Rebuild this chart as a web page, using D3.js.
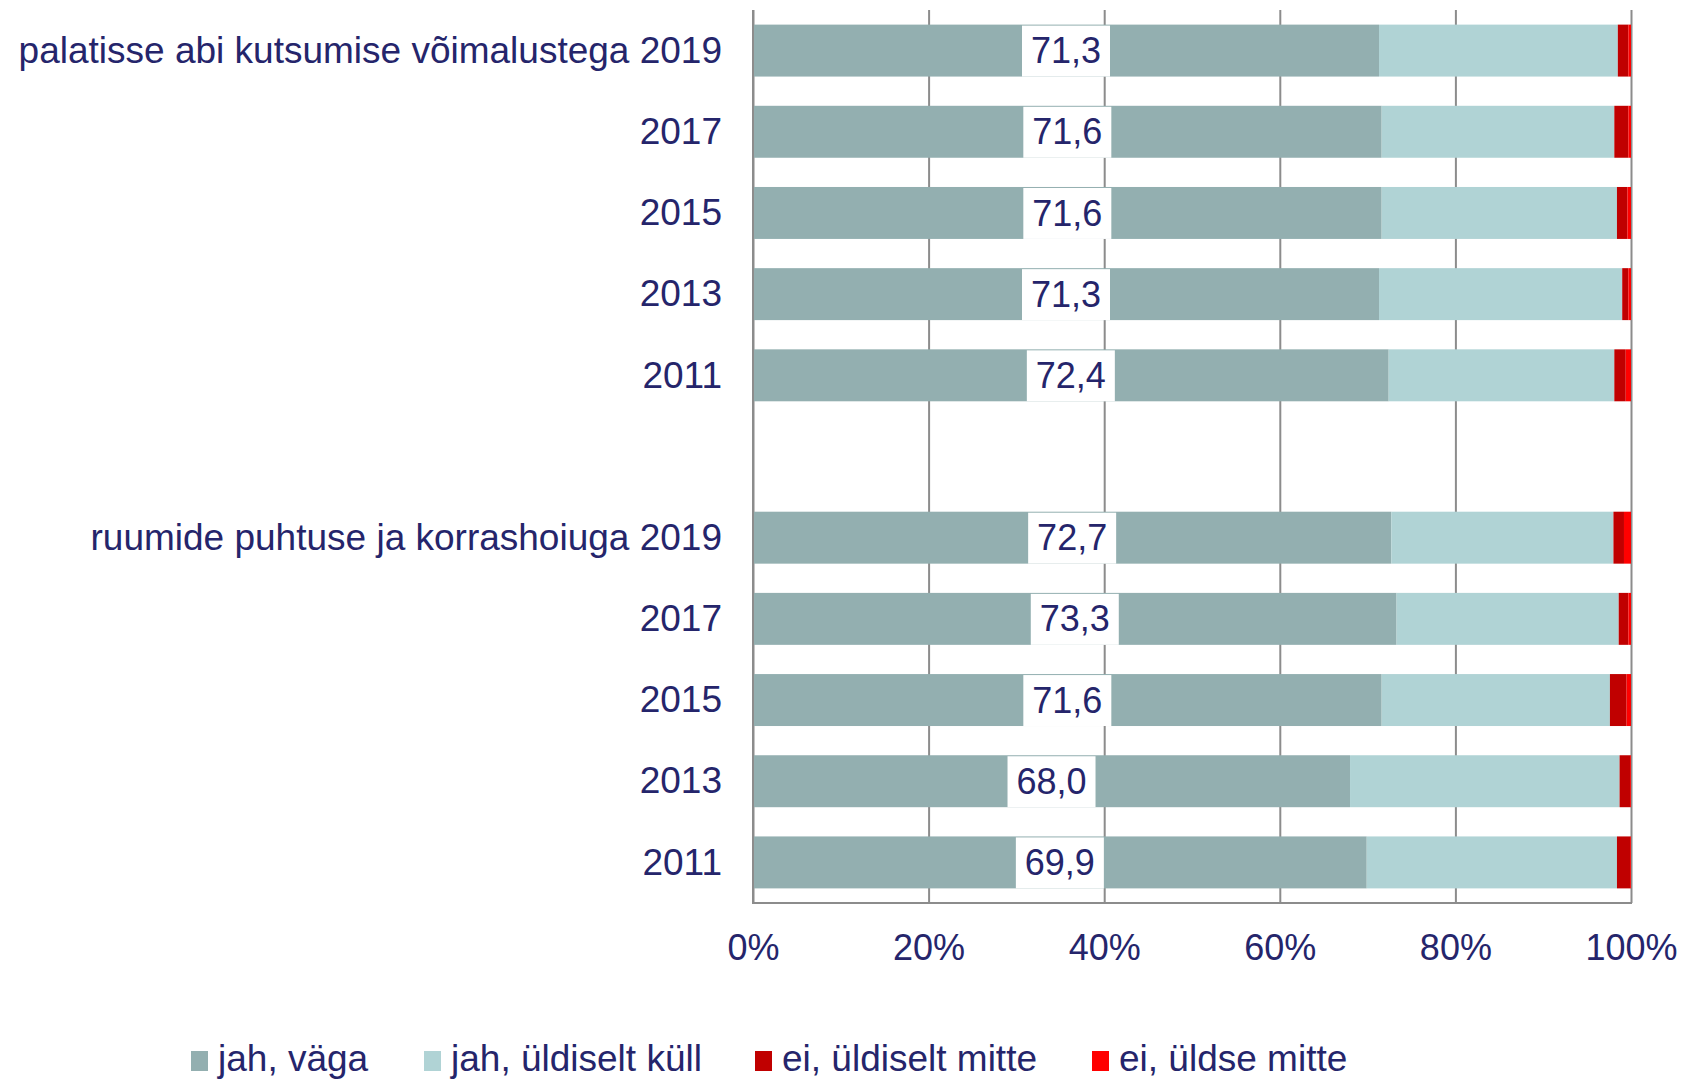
<!DOCTYPE html>
<html>
<head>
<meta charset="utf-8">
<script src="https://cdn.jsdelivr.net/npm/d3@7"></script>
<style>
  body { margin: 0; background: #fff; }
  svg text { font-family: "Liberation Sans", Arial, sans-serif; fill: #25256b; }
</style>
</head>
<body>
<div id="chart"></div>
<script>
'use strict';

var groups = ['palatisse abi kutsumise võimalustega', 'ruumide puhtuse ja korrashoiuga'];
var years = ['2019', '2017', '2015', '2013', '2011'];
var seriesNames = ['jah, väga', 'jah, üldiselt küll', 'ei, üldiselt mitte', 'ei, üldse mitte'];
var seriesColors = ['#93afb0', '#b0d3d5', '#c00000', '#ff0000'];

// rows: group 1 years, then group 2 years
var jahVaga      = [71.3, 71.6, 71.6, 71.3, 72.4,  72.7, 73.3, 71.6, 68.0, 69.9];
var jahUldiselt  = [27.2, 26.5, 26.8, 27.7, 25.7,  25.3, 25.3, 26.0, 30.7, 28.5];
var eiUldiselt   = [ 1.2,  1.6,  1.2,  0.7,  1.3,   1.2,  1.1,  1.9,  1.2,  1.5];
var eiUldse      = [ 0.3,  0.3,  0.4,  0.3,  0.6,   0.8,  0.3,  0.5,  0.1,  0.1];

var tickValues = [0, 0.2, 0.4, 0.6, 0.8, 1];

var W = 1684, H = 1080;
var plotLeft = 753, plotRight = 1631, plotTop = 10, plotBottom = 903;

var rows = [];
groups.forEach(function (g, gi) {
  years.forEach(function (yr, yi) {
    var i = gi * years.length + yi;
    rows.push({
      key: g + '|' + yr,
      label: (yi === 0 ? g + ' ' : '') + yr,
      values: [jahVaga[i], jahUldiselt[i], eiUldiselt[i], eiUldse[i]]
    });
  });
  if (gi < groups.length - 1) rows.push({ key: 'gap' + gi, label: '', values: null });
});

var svg = d3.select('#chart').append('svg')
  .attr('width', W)
  .attr('height', H);

var x = d3.scaleLinear().domain([0, 1]).range([plotLeft, plotRight]);
var y = d3.scaleBand()
  .domain(rows.map(function (d) { return d.key; }))
  .range([plotTop, plotBottom])
  .paddingInner(0.36)
  .paddingOuter(0.18);

// gridlines
svg.append('g')
  .attr('transform', 'translate(0,' + plotBottom + ')')
  .call(d3.axisBottom(x).tickValues(tickValues).tickSize(-(plotBottom - plotTop)).tickFormat(''))
  .call(function (g) {
    g.select('.domain').remove();
    g.selectAll('line').attr('stroke', '#8c8c8c').attr('stroke-width', 2);
  });

var dataRows = rows.filter(function (d) { return d.values; });

// stacked bars
var rowG = svg.append('g').selectAll('g')
  .data(dataRows)
  .join('g')
  .attr('transform', function (d) { return 'translate(0,' + y(d.key) + ')'; });

rowG.selectAll('rect')
  .data(function (d) {
    var acc = 0;
    return d.values.map(function (v, i) {
      var s = { x0: acc, x1: acc + v, i: i };
      acc += v;
      return s;
    });
  })
  .join('rect')
  .attr('x', function (s) { return x(s.x0 / 100); })
  .attr('width', function (s) { return Math.max(0, x(s.x1 / 100) - x(s.x0 / 100)); })
  .attr('y', 0)
  .attr('height', y.bandwidth())
  .attr('fill', function (s) { return seriesColors[s.i]; });

// value labels on first series
var lab = rowG.append('g')
  .attr('transform', function (d) { return 'translate(' + x(d.values[0] / 200) + ',0)'; });
lab.append('rect')
  .attr('x', -44)
  .attr('y', 1)
  .attr('width', 88)
  .attr('height', y.bandwidth() - 1)
  .attr('fill', '#fff');
lab.append('text')
  .attr('text-anchor', 'middle')
  .attr('y', y.bandwidth() / 2)
  .attr('dy', '0.35em')
  .style('font-size', '36px')
  .text(function (d) { return d3.format('.1f')(d.values[0]).replace('.', ','); });

// axis lines
svg.append('line')
  .attr('x1', plotLeft).attr('x2', plotLeft)
  .attr('y1', plotTop).attr('y2', plotBottom)
  .attr('stroke', '#8c8c8c').attr('stroke-width', 2);
svg.append('line')
  .attr('x1', plotLeft - 1).attr('x2', plotRight + 1)
  .attr('y1', plotBottom).attr('y2', plotBottom)
  .attr('stroke', '#8c8c8c').attr('stroke-width', 2);

// x tick labels
svg.append('g')
  .attr('transform', 'translate(0,' + plotBottom + ')')
  .call(d3.axisBottom(x).tickValues(tickValues).tickSize(0).tickPadding(31).tickFormat(d3.format('.0%')))
  .call(function (g) {
    g.select('.domain').remove();
    g.selectAll('text').style('font-size', '36px').attr('fill', '#25256b')
      .style('font-family', '"Liberation Sans", Arial, sans-serif');
  });

// category labels
svg.append('g').selectAll('text')
  .data(dataRows)
  .join('text')
  .attr('x', plotLeft - 31)
  .attr('y', function (d) { return y(d.key) + y.bandwidth() / 2; })
  .attr('dy', '0.33em')
  .attr('text-anchor', 'end')
  .style('font-size', '37px')
  .text(function (d) { return d.label; });

// legend
var legendX = [191, 424, 755, 1092];
var legend = svg.append('g').selectAll('g')
  .data(seriesNames)
  .join('g')
  .attr('transform', function (d, i) { return 'translate(' + legendX[i] + ',1059)'; });
legend.append('rect')
  .attr('x', 0).attr('y', -8)
  .attr('width', 17).attr('height', 20)
  .attr('fill', function (d, i) { return seriesColors[i]; });
legend.append('text')
  .attr('x', 27)
  .attr('dy', '0.33em')
  .style('font-size', '37px')
  .text(function (d) { return d; });
</script>
</body>
</html>
